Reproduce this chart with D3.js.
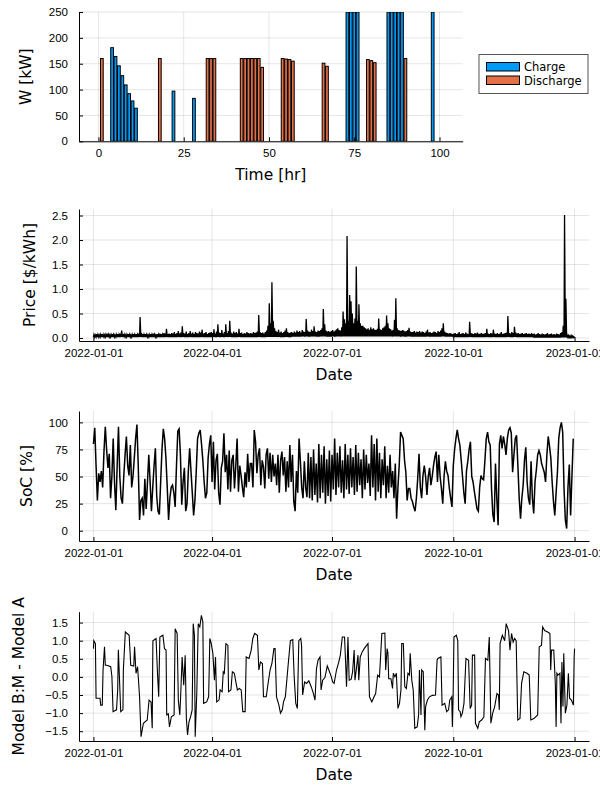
<!DOCTYPE html>
<html>
<head>
<meta charset="utf-8">
<script src="https://cdn.jsdelivr.net/npm/d3@7"></script>
<style>
body { margin: 0; background: #fff; }
svg { font-family: "DejaVu Sans", sans-serif; }
.tick text { font-size: 11.5px; fill: #000; }
.axis path, .axis line { stroke: #000; }
.label { font-size: 15.5px; fill: #000; }
</style>
</head>
<body>
<script>
// ---- battery dispatch (top panel)
var chargeHours = [4, 5, 6, 7, 8, 9, 10, 11, 22, 28, 73, 74, 75, 76, 85, 86, 87, 88, 89, 98];
var chargePower = [181, 164, 146, 127, 109, 92, 78, 64, 97, 83, 250, 250, 250, 250, 250, 250, 250, 250, 250, 250];
var dischargeHours = [1, 18, 32, 33, 34, 42, 43, 44, 45, 46, 47, 48, 54, 55, 56, 57, 66, 67, 79, 80, 81, 90];
var dischargePower = [160, 160, 160, 160, 160, 160, 160, 160, 160, 160, 160, 143, 160, 159, 158, 155, 151, 145, 158, 156, 152, 160];
var hourTicks = [0, 25, 50, 75, 100];
var powerTicks = [0, 50, 100, 150, 200, 250];
var seriesNames = ["Charge", "Discharge"];

// ---- price, daily peak of the hourly series (365 days)
var priceDailyHigh = [].concat(
  [0.07,0.06,0.08,0.07,0.06,0.07,0.08,0.07,0.06,0.07,0.09,0.07,0.06,0.07,0.08,0.07,0.06,0.07,0.08,0.07,0.09,0.15,0.08,0.07,0.06,0.07,0.08,0.07,0.06,0.07,0.08],
  [0.07,0.08,0.07,0.09,0.43,0.1,0.08,0.07,0.08,0.07,0.06,0.07,0.08,0.07,0.09,0.07,0.06,0.08,0.07,0.09,0.08,0.07,0.1,0.09,0.19,0.08,0.09],
  [0.08,0.1,0.09,0.12,0.08,0.1,0.14,0.09,0.11,0.24,0.1,0.09,0.13,0.08,0.1,0.14,0.09,0.11,0.08,0.12,0.1,0.09,0.13,0.11,0.17,0.09,0.1,0.12,0.08,0.1,0.11],
  [0.12,0.1,0.18,0.09,0.13,0.28,0.11,0.1,0.16,0.09,0.12,0.28,0.1,0.14,0.35,0.11,0.09,0.13,0.1,0.12,0.09,0.19,0.1,0.11,0.08,0.1,0.09,0.12,0.1,0.09],
  [0.1,0.09,0.12,0.1,0.11,0.13,0.47,0.12,0.1,0.11,0.09,0.12,0.15,0.25,0.71,0.3,1.14,0.35,0.2,0.14,0.12,0.17,0.11,0.13,0.1,0.12,0.15,0.2,0.12,0.1,0.11],
  [0.12,0.1,0.13,0.11,0.15,0.12,0.14,0.11,0.16,0.13,0.12,0.39,0.15,0.13,0.12,0.17,0.14,0.24,0.13,0.12,0.15,0.14,0.16,0.2,0.59,0.28,0.15,0.13,0.14,0.12],
  [0.14,0.16,0.13,0.15,0.18,0.2,0.16,0.15,0.22,0.54,0.38,0.3,2.08,0.35,0.88,0.75,0.5,0.3,0.4,1.46,0.35,0.69,0.3,0.25,0.25,0.22,0.2,0.18,0.2,0.17,0.22],
  [0.18,0.2,0.17,0.16,0.19,0.4,0.18,0.16,0.2,0.22,0.25,0.46,0.3,0.2,0.18,0.15,0.17,0.37,0.81,0.2,0.16,0.15,0.14,0.16,0.15,0.13,0.14,0.16,0.21,0.13,0.12],
  [0.12,0.14,0.11,0.13,0.12,0.14,0.11,0.13,0.12,0.1,0.13,0.17,0.11,0.12,0.1,0.11,0.13,0.12,0.1,0.14,0.12,0.15,0.2,0.3,0.13,0.11,0.1,0.09,0.1,0.09],
  [0.08,0.09,0.1,0.08,0.09,0.12,0.08,0.09,0.1,0.08,0.11,0.09,0.08,0.33,0.1,0.09,0.08,0.1,0.09,0.11,0.08,0.09,0.1,0.08,0.09,0.1,0.19,0.09,0.08,0.1,0.09],
  [0.17,0.09,0.08,0.1,0.08,0.09,0.12,0.08,0.09,0.1,0.11,0.45,0.1,0.09,0.12,0.1,0.23,0.11,0.09,0.1,0.08,0.09,0.1,0.08,0.09,0.1,0.08,0.09,0.08,0.1],
  [0.08,0.09,0.07,0.08,0.1,0.08,0.07,0.09,0.08,0.07,0.08,0.1,0.07,0.08,0.09,0.07,0.08,0.07,0.09,0.08,0.07,0.1,0.12,0.25,2.51,0.8,0.06,0.05,0.04,0.05,0.04,0.03]
);
var priceMonthlyLow = [0.02, 0.02, 0.02, 0.02, 0.02, 0.03, 0.03, 0.03, 0.03, 0.02, 0.02, 0.01];
var priceTicks = [0, 0.5, 1, 1.5, 2, 2.5];

// ---- state of charge, one value per day
var socDaily = [
  80,95,60,28,53,45,55,40,73,96,75,58,71,30,50,85,44,19,60,96,50,30,25,50,70,87,60,51,79,40,
  50,67,85,98,60,10,28,30,14,48,20,45,70,45,18,40,60,76,32,18,15,45,75,94,85,67,40,10,30,40,
  42,35,22,60,92,94,70,24,45,58,18,25,55,76,55,35,14,28,55,85,90,93,80,65,45,30,35,67,80,88,
  45,82,38,65,71,35,24,58,64,90,54,70,38,74,36,65,70,39,60,85,36,60,51,40,31,54,40,71,45,62,
  62,40,93,82,53,70,76,42,65,59,39,70,76,48,72,45,70,50,62,42,70,35,65,73,51,68,36,64,40,79,
  45,70,27,18,55,35,85,64,40,30,64,40,31,72,30,68,28,75,33,62,26,80,30,70,35,78,25,66,32,74,
  27,70,38,85,33,72,40,78,35,65,30,80,38,70,34,76,40,68,33,79,36,72,42,66,30,75,38,70,44,62,
  32,88,40,80,28,85,36,72,30,66,42,78,30,60,35,70,40,55,30,62,11,40,61,91,88,85,65,54,28,39,
  39,30,27,22,18,30,48,71,40,30,51,60,50,33,50,58,42,50,60,68,73,45,70,50,39,25,50,64,55,51,
  39,30,22,60,75,85,93,85,79,65,50,35,25,55,64,75,82,50,45,36,28,20,18,40,51,48,47,65,85,91,
  82,79,39,15,8,62,30,5,80,88,76,87,80,70,85,93,95,90,54,70,85,88,60,30,11,30,42,65,77,45,
  30,24,64,30,16,45,56,70,74,70,62,58,54,45,70,87,78,67,45,27,14,35,54,85,95,100,91,39,10,2,
  40,61,14,50,85
];
var socTicks = [0, 25, 50, 75, 100];

// ---- model difference, [day of year, value]
var modelDiff = [[0,0.78],[0.3,1.0],[1.5,0.92],[2,-0.59],[5,-0.59],[5.5,-0.78],[6.7,-0.78],[7.3,0.19],[8.4,0.83],[9,0.32],[10.2,0.32],[13.1,0.28],[14,0.02],[14.9,-0.96],[17.5,-0.91],[18.4,-0.36],[18.9,0.75],[19.8,-0.09],[20.7,-0.96],[22.4,-0.91],[22.7,0.19],[24.2,1.24],[27.1,1.15],[28.3,0.32],[30.6,0.3],[31.2,0.83],[32.3,0.1],[33.5,0.28],[35,-0.55],[36.1,-1.65],[37.9,-1.28],[40.8,-1.19],[42.2,-0.64],[43.7,-0.69],[44.6,-1.42],[45.1,1.0],[47.5,1.06],[48.6,0.1],[49.5,-0.55],[50.4,1.1],[52.7,1.15],[53.9,0.78],[55.1,0.74],[55.6,-1.05],[56.8,-1.02],[57.7,-1.38],[59.1,-1.1],[61.2,-1.05],[62,1.33],[63.5,1.2],[64.4,-0.64],[65.5,-1.05],[66.1,-0.59],[67.3,0.55],[68.5,-0.23],[69.6,0.6],[70.5,-1.15],[71.4,-1.6],[72.5,-1.24],[73.7,-1.1],[74.9,-0.91],[75.7,1.47],[76.6,1.15],[77.2,-1.65],[78.4,-0.46],[79.5,1.47],[80.7,1.38],[81.9,1.7],[83,1.52],[83.6,-0.73],[85.9,-0.69],[87.4,-0.55],[88.3,1.06],[89.4,0.92],[90.6,0.65],[91.8,-0.09],[92.6,0.55],[93.5,-0.69],[95.3,-0.64],[96.1,-0.36],[97.6,-0.41],[98.5,0.14],[99.3,0.1],[100.5,0.92],[102,0.87],[102.5,-0.41],[104.3,-0.36],[105.4,0.14],[106.9,0.1],[107.8,-0.09],[109.2,-0.36],[110.7,-0.32],[112.1,-0.36],[113.3,-0.96],[115.1,-0.96],[115.9,0.55],[118,0.51],[119.7,0.74],[120.9,1.06],[122.3,1.2],[124.4,1.15],[125.5,0.19],[126.7,0.41],[128.2,0.37],[129,-0.55],[131.1,-0.55],[132.5,-0.18],[134,0.19],[135.4,0.37],[136.9,0.78],[137.8,0.78],[138.9,-0.55],[140.7,-0.78],[141.9,-1.0],[143.3,-0.91],[144.2,-0.69],[145.6,-0.55],[147.7,0.32],[149.4,1.0],[151.2,1.03],[152.3,0.0],[153.5,-0.73],[154.7,-0.87],[155.8,1.0],[157.3,1.06],[157.9,0.87],[158.7,-0.5],[160.2,-0.14],[161.7,-0.18],[163.4,-0.11],[165.2,-0.27],[166.9,-0.46],[168.1,-0.64],[169.2,0.23],[170.4,0.46],[171.9,0.55],[172.7,-0.36],[173.9,-0.09],[175.6,-0.02],[177.4,0.3],[178.6,0.19],[180.3,0.02],[181.5,-0.14],[182.6,-0.18],[184.4,0.19],[186.1,0.41],[187.3,0.6],[188.8,1.1],[190.5,1.1],[191.4,0.32],[192,-0.27],[193.1,1.1],[194,-0.09],[195.5,-0.07],[196.6,0.14],[197.8,0.74],[198.4,-0.09],[199.5,0.23],[200.7,0.6],[201.3,-0.09],[202.4,0.55],[203.9,0.69],[205.4,0.78],[206.8,0.85],[208.3,0.92],[209.4,-0.55],[211.2,-0.69],[212.9,-0.55],[214.1,-0.46],[215.6,0.05],[217,0.0],[218.8,1.2],[221.1,1.21],[221.7,0.19],[222.8,0.78],[223.4,0.65],[224,-0.05],[225.7,-0.05],[226.9,-0.32],[227.5,0.1],[228.7,0.0],[229.8,0.1],[231,-0.87],[232.2,-0.73],[233.3,-0.36],[233.9,0.92],[235.1,0.92],[236.2,-0.27],[237.4,-0.32],[238.6,0.1],[239.7,0.05],[240.3,0.65],[241.5,-0.09],[242.6,-0.36],[243.8,-1.42],[245.6,-1.38],[246.7,-1.05],[247.3,0.19],[248.5,-1.05],[249,0.19],[250.2,0.14],[251.4,-1.47],[252,-0.82],[253.4,-0.64],[254.9,-0.55],[257.2,-0.51],[259.5,-0.5],[260.7,0.46],[261.3,0.51],[263.6,0.55],[264.5,-0.78],[266.5,-0.73],[268,-0.96],[269.4,-0.91],[270.3,-0.64],[271.8,-0.55],[272.3,-1.38],[272.9,-0.46],[273.5,1.1],[275.3,1.15],[276.4,1.0],[277,-0.91],[278.2,-0.96],[278.8,-1.1],[279.9,-1.0],[281.1,-0.73],[282.6,0.51],[284.6,0.46],[285.8,-0.87],[286.9,-0.78],[287.5,0.6],[289.2,0.6],[289.8,-1.28],[291.6,-1.42],[292.7,-1.24],[294.5,-1.19],[296.2,-1.1],[297.4,0.51],[299.2,0.46],[300.3,1.1],[301.5,-1.28],[302.9,-1.0],[304.4,-0.82],[306.1,-0.46],[307.3,-0.5],[307.9,-0.91],[308.5,0.92],[310.2,1.15],[312,1.0],[313.1,1.47],[314.9,1.28],[316,0.74],[317.2,1.2],[318.4,0.96],[319.5,1.06],[320.7,1.0],[321.9,-1.19],[323.6,-1.15],[324.8,-0.18],[326.5,0.14],[328.9,0.1],[330.6,0.05],[331.8,-1.19],[334.1,-1.15],[337,-1.05],[338.2,0.83],[339.9,0.87],[340.8,1.38],[342.3,1.28],[344.6,1.24],[346.3,1.2],[346.9,0.19],[347.5,0.74],[349.2,0.74],[350.4,-0.18],[351,-1.38],[351.6,0.1],[352.4,0.05],[353.9,0.1],[354.7,-1.28],[355.4,0.41],[356.2,-0.82],[356.8,0.65],[358,-1.0],[359.2,-0.78],[360.3,0.1],[361.2,-0.59],[362.6,-0.64],[364.1,-0.78],[364.7,0.55],[365,0.78]];
var modelTicks = [-1.5, -1, -0.5, 0, 0.5, 1, 1.5];

var dateTicks = ["2022-01-01", "2022-04-01", "2022-07-01", "2022-10-01", "2023-01-01"];

// ---- setup
var colors = ["#009afa", "#e36f47"];
var DAY = 864e5;
var t0 = Date.UTC(2022, 0, 1);
function dayToDate(d) { return new Date(t0 + d * DAY); }
var parseDay = d3.utcParse("%Y-%m-%d");
var fmtDay = d3.utcFormat("%Y-%m-%d");
var dateTickValues = dateTicks.map(parseDay);

var svg = d3.select("body").append("svg")
  .attr("width", 600)
  .attr("height", 800);

var left = 79, right = 589;

// date scale shared by the three bottom panels (3% padding each side like Plots.jl)
var xDate = d3.scaleUtc()
  .domain([dayToDate(-10.95), dayToDate(365 + 10.95)])
  .range([left, right]);

function panel(box, x, y, xt, yt, xfmt, yfmt, xlabel, ylabel, ylabelX) {
  var g = svg.append("g");
  var grid = g.append("g");
  grid.selectAll(".gx").data(xt).enter().append("line")
    .attr("x1", function(d) { return x(d); }).attr("x2", function(d) { return x(d); })
    .attr("y1", box.top).attr("y2", box.bottom)
    .attr("stroke", "#000").attr("stroke-opacity", 0.1);
  grid.selectAll(".gy").data(yt).enter().append("line")
    .attr("x1", box.left).attr("x2", box.right)
    .attr("y1", function(d) { return y(d); }).attr("y2", function(d) { return y(d); })
    .attr("stroke", "#000").attr("stroke-opacity", 0.1);

  var id = "clip" + Math.round(box.top);
  svg.append("clipPath").attr("id", id).append("rect")
    .attr("x", box.left).attr("y", box.top)
    .attr("width", box.right - box.left).attr("height", box.bottom - box.top);
  var plot = g.append("g").attr("clip-path", "url(#" + id + ")");

  var axes = g.append("g");
  axes.append("g").attr("class", "axis")
    .attr("transform", "translate(0," + box.bottom + ")")
    .call(d3.axisBottom(x).tickValues(xt).tickFormat(xfmt).tickSizeInner(-4).tickSizeOuter(0).tickPadding(8));
  axes.append("g").attr("class", "axis")
    .attr("transform", "translate(" + box.left + ",0)")
    .call(d3.axisLeft(y).tickValues(yt).tickFormat(yfmt).tickSizeInner(-4).tickSizeOuter(0).tickPadding(11));
  axes.selectAll(".axis text").attr("font-family", null).attr("font-size", null);

  g.append("text").attr("class", "label")
    .attr("x", (box.left + box.right) / 2)
    .attr("y", box.bottom + 39)
    .attr("text-anchor", "middle")
    .text(xlabel);
  g.append("text").attr("class", "label")
    .attr("transform", "translate(" + ylabelX + "," + ((box.top + box.bottom) / 2) + ") rotate(-90)")
    .attr("dy", "0.35em")
    .attr("text-anchor", "middle")
    .text(ylabel);
  return { g: g, plot: plot, axes: axes };
}

// ---- panel 1: bars
var box1 = { left: left, right: 462.7, top: 12, bottom: 141.3 };
var xHour = d3.scaleLinear().domain([-5.7, 106.8]).range([box1.left, box1.right]);
var yPow = d3.scaleLinear().domain([0, 250]).range([box1.bottom, box1.top]);
var p1 = panel(box1, xHour, yPow, hourTicks, powerTicks, d3.format("d"), d3.format("d"), "Time [hr]", "W [kW]", 26);

var barW = xHour(0.8) - xHour(0);
function bars(hours, vals, color) {
  p1.plot.append("g").selectAll("rect")
    .data(hours)
    .enter().append("rect")
    .attr("x", function(d) { return xHour(d) - barW / 2; })
    .attr("width", barW)
    .attr("y", function(d, i) { return yPow(vals[i]); })
    .attr("height", function(d, i) { return yPow(0) - yPow(vals[i]); })
    .attr("fill", color)
    .attr("stroke", "#000")
    .attr("stroke-width", 1);
}
bars(chargeHours, chargePower, colors[0]);
bars(dischargeHours, dischargePower, colors[1]);
p1.axes.raise();

// legend
var lg = svg.append("g").attr("transform", "translate(479,54.5)");
lg.append("rect").attr("width", 109).attr("height", 39)
  .attr("fill", "#fff").attr("stroke", "#555").attr("stroke-width", 1);
seriesNames.forEach(function(name, i) {
  lg.append("rect").attr("x", 7.5).attr("y", 8 + i * 13.5).attr("width", 33).attr("height", 8.5)
    .attr("fill", colors[i]).attr("stroke", "#000");
  lg.append("text").attr("x", 45).attr("y", 12.5 + i * 13.5).attr("dy", "0.35em")
    .attr("font-size", "11.5px").text(name);
});

// ---- panel 2: price
var box2 = { left: left, right: right, top: 209, bottom: 341 };
var yPrice = d3.scaleLinear().domain([-0.061, 2.633]).range([box2.bottom, box2.top]);
var p2 = panel(box2, xDate, yPrice, dateTickValues, priceTicks, fmtDay, d3.format(".1f"), "Date", "Price [$/kWh]", 30);
var pricePts = [];
priceDailyHigh.forEach(function(v, i) {
  var lo = priceMonthlyLow[dayToDate(i).getUTCMonth()];
  pricePts.push([i, lo], [i + 0.4, v]);
});
pricePts.push([365, 0.0]);
p2.plot.append("path")
  .datum(pricePts)
  .attr("fill", "none").attr("stroke", "#000").attr("stroke-width", 1.3)
  .attr("d", d3.line().x(function(d) { return xDate(dayToDate(d[0])); }).y(function(d) { return yPrice(d[1]); }));

// ---- panel 3: SoC
var box3 = { left: left, right: right, top: 411, bottom: 541 };
var ySoc = d3.scaleLinear().domain([-9.5, 110.5]).range([box3.bottom, box3.top]);
var p3 = panel(box3, xDate, ySoc, dateTickValues, socTicks, fmtDay, d3.format("d"), "Date", "SoC [%]", 27);
p3.plot.append("path")
  .datum(socDaily)
  .attr("fill", "none").attr("stroke", "#000").attr("stroke-width", 1.5)
  .attr("d", d3.line().x(function(d, i) { return xDate(dayToDate(i)); }).y(function(d) { return ySoc(d); }));

// ---- panel 4: model difference
var box4 = { left: left, right: right, top: 611.7, bottom: 741 };
var yDiff = d3.scaleLinear().domain([-1.77, 1.80]).range([box4.bottom, box4.top]);
var p4 = panel(box4, xDate, yDiff, dateTickValues, modelTicks, fmtDay, d3.format(".1f"), "Date", "Model B:M - Model A", 19);
p4.plot.append("path")
  .datum(modelDiff)
  .attr("fill", "none").attr("stroke", "#000").attr("stroke-width", 1.1)
  .attr("d", d3.line().x(function(d) { return xDate(dayToDate(d[0])); }).y(function(d) { return yDiff(d[1]); }));
</script>
</body>
</html>
